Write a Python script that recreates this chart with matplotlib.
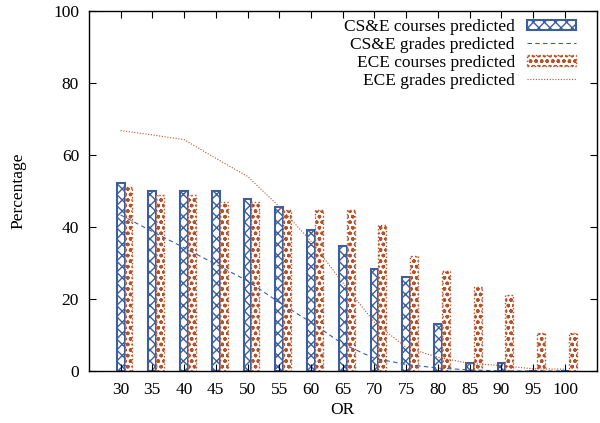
import numpy as np
import matplotlib.pyplot as plt

plt.rcParams['font.family'] = ['Liberation Serif', 'DejaVu Serif']
plt.rcParams['hatch.linewidth'] = 1.0

or_labels = ['30', '35', '40', '45', '50', '55', '60', '65', '70', '75', '80', '85', '90', '95', '100']
cse_courses = [52.1, 49.9, 50.0, 50.0, 47.7, 45.5, 39.1, 34.7, 28.2, 26.0, 13.0, 2.1, 2.1, 0.0, 0.0]
cse_grades = [43.3, 38.7, 34.2, 29.6, 25.0, 19.0, 13.5, 7.5, 3.5, 1.8, 0.8, 0.3, 0.0, 0.0, 0.0]
ece_courses = [51.0, 48.8, 48.8, 46.8, 46.8, 44.6, 44.6, 44.6, 40.5, 31.8, 27.8, 23.2, 21.2, 10.5, 10.5]
ece_grades = [66.7, 65.5, 64.2, 59.0, 54.0, 45.6, 36.0, 24.5, 13.5, 6.5, 3.8, 2.1, 1.5, 0.6, 0.5]

blue = '#3c5f9c'
orange = '#b4532a'

x = np.arange(len(or_labels))
w = 0.25
fs = 12.5

fig = plt.figure(figsize=(6, 4.23), dpi=100)
ax = fig.add_axes([0.148, 0.123, 0.8465, 0.852])

b1 = ax.bar(x, cse_courses, w, facecolor='white', edgecolor=blue, hatch='xxx',
            linewidth=1.5, label='CS&E courses predicted')
l1, = ax.plot(x, cse_grades, color=blue, linestyle=(0, (4, 3)), linewidth=0.8,
              label='CS&E grades predicted')
b2 = ax.bar(x + w, ece_courses, w, facecolor='white', edgecolor=orange, hatch='ooo',
            linewidth=1.0, linestyle=':', label='ECE courses predicted')
l2, = ax.plot(x, ece_grades, color=orange, linestyle=(0, (1, 1.5)), linewidth=0.8,
              label='ECE grades predicted')

ax.set_xlim(-1, 15)
ax.set_ylim(0, 100)
ax.set_xticks(x)
ax.set_xticklabels(or_labels)
ax.set_yticks(np.arange(0, 101, 20))
ax.tick_params(direction='in', top=True, right=True, length=5, width=0.8,
               labelsize=fs)
ax.tick_params(axis='y', pad=7)
ax.tick_params(axis='x', pad=8)
ax.set_xlabel('OR', fontsize=fs, labelpad=3)
ax.set_ylabel('Percentage', fontsize=fs, labelpad=19)
for s in ax.spines.values():
    s.set_linewidth(1.0)

ax.legend([b1, l1, b2, l2],
          ['CS&E courses predicted', 'CS&E grades predicted',
           'ECE courses predicted', 'ECE grades predicted'],
          loc='upper right', frameon=False, markerfirst=False, fontsize=fs,
          handlelength=2.8, handleheight=0.55, labelspacing=0.1,
          handletextpad=0.7, borderaxespad=0.0, bbox_to_anchor=(0.972, 0.995))

fig.savefig('out.png', dpi=100)
